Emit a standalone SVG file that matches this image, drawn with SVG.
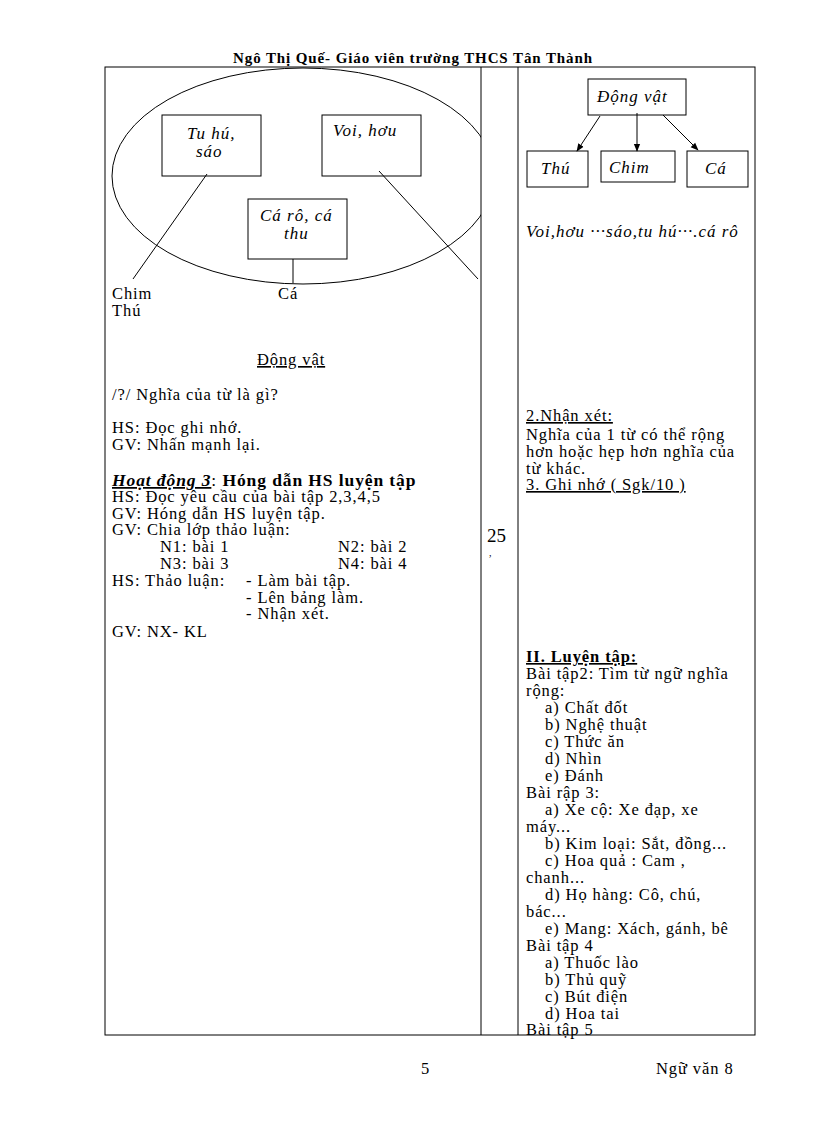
<svg xmlns="http://www.w3.org/2000/svg" width="816" height="1123" viewBox="0 0 816 1123">
<style>
text{font-family:"Liberation Serif","Times New Roman",serif;fill:#000}
.b{font-size:16.5px;letter-spacing:0.9px}
.i{font-style:italic;font-size:17px;letter-spacing:1px}
.hd{font-size:15px;font-weight:bold}
.u{text-decoration:underline}
.box{fill:none;stroke:#000;stroke-width:1}
.ln{stroke:#000;stroke-width:1;fill:none}
</style>
<defs>
<marker id="ah" viewBox="0 0 10 10" refX="9" refY="5" markerWidth="8" markerHeight="8" orient="auto" markerUnits="userSpaceOnUse"><path d="M0,1 L10,5 L0,9 z" fill="#000"/></marker>
<clipPath id="lc"><rect x="105" y="60" width="376" height="300"/></clipPath>
</defs>
<rect width="816" height="1123" fill="#fff"/>
<text class="hd" x="233" y="63" textLength="359">Ngô Thị Quế- Giáo viên trường THCS Tân Thành</text>
<g id="table">
<rect x="105" y="67" width="650" height="968" class="box"/>
<line x1="481" y1="67" x2="481" y2="1035" class="ln"/>
<line x1="518" y1="67" x2="518" y2="1035" class="ln"/>
</g>
<g id="ellipse"><ellipse cx="303" cy="176" rx="191" ry="108" class="ln" clip-path="url(#lc)"/></g>
<g id="connectors">
<line x1="207" y1="174" x2="133" y2="279" class="ln"/>
<line x1="379" y1="171" x2="478" y2="279" class="ln" clip-path="url(#lc)"/>
<line x1="293" y1="259" x2="293" y2="283" class="ln"/>
<line x1="600" y1="116" x2="577" y2="151" class="ln" marker-end="url(#ah)"/>
<line x1="637" y1="113" x2="637" y2="151" class="ln" marker-end="url(#ah)"/>
<line x1="663" y1="115" x2="698" y2="150" class="ln" marker-end="url(#ah)"/>
</g>
<g id="n-tuhu"><rect x="162" y="115" width="99" height="61" class="box"/><text class="i" x="187" y="139">Tu hú,</text><text class="i" x="196" y="157">sáo</text></g>
<g id="n-voi"><rect x="322" y="115" width="99" height="61" class="box"/><text class="i" x="333" y="136">Voi, hơu</text></g>
<g id="n-caro"><rect x="248" y="199" width="99" height="60" class="box"/><text class="i" x="260" y="221">Cá rô, cá</text><text class="i" x="284" y="239">thu</text></g>
<g id="n-dongvat"><rect x="588" y="79" width="98" height="36" class="box"/><text class="i" x="597" y="102">Động vật</text></g>
<g id="n-thu"><rect x="527" y="151" width="61" height="36" class="box"/><text class="i" x="541" y="174">Thú</text></g>
<g id="n-chim"><rect x="601" y="151" width="74" height="31" class="box"/><text class="i" x="609" y="173">Chim</text></g>
<g id="n-ca"><rect x="687" y="151" width="61" height="36" class="box"/><text class="i" x="705" y="174">Cá</text></g>
<g id="left-text">
<text class="b" x="112" y="299">Chim</text>
<text class="b" x="112" y="316">Thú</text>
<text class="b" x="278" y="299">Cá</text>
<text class="b u" x="257" y="365">Động vật</text>
<text class="b" x="112" y="400">/?/ Nghĩa của từ là gì?</text>
<text class="b" x="112" y="433">HS: Đọc ghi nhớ.</text>
<text class="b" x="112" y="450">GV: Nhấn mạnh lại.</text>
<text class="b" x="112" y="486" style="font-size:17.5px"><tspan font-weight="bold" font-style="italic" text-decoration="underline">Hoạt động 3</tspan>: <tspan font-weight="bold">Hóng   dẫn HS luyện tập</tspan></text>
<text class="b" x="112" y="502">HS: Đọc yêu cầu của bài tập 2,3,4,5</text>
<text class="b" x="112" y="519">GV: Hóng   dẫn HS  luyện tập.</text>
<text class="b" x="112" y="535">GV: Chia lớp thảo luận:</text>
<text class="b" x="160" y="552">N1: bài 1</text>
<text class="b" x="338" y="552">N2: bài 2</text>
<text class="b" x="160" y="569">N3: bài 3</text>
<text class="b" x="338" y="569">N4: bài 4</text>
<text class="b" x="112" y="586">HS: Thảo luận:</text>
<text class="b" x="246" y="586">- Làm bài tập.</text>
<text class="b" x="246" y="603">- Lên bảng làm.</text>
<text class="b" x="246" y="619">- Nhận xét.</text>
<text class="b" x="112" y="637">GV: NX- KL</text>
</g>
<g id="mid-text">
<text x="487" y="542" font-size="19">25</text>
<text x="489" y="556" font-size="10">,</text>
</g>
<g id="right-text">
<text class="i" x="526" y="237">Voi,hơu  ···sáo,tu hú···.cá rô</text>
<text class="b u" x="526" y="421">2.Nhận xét:</text>
<text class="b" x="526" y="440">Nghĩa của 1 từ có thể rộng</text>
<text class="b" x="526" y="457">hơn hoặc hẹp hơn nghĩa của</text>
<text class="b" x="526" y="474">từ khác.</text>
<text class="b u" x="526" y="490">3. Ghi nhớ ( Sgk/10 )</text>
<text class="b u" x="526" y="662" font-weight="bold">II. Luyện tập:</text>
<text class="b" x="526" y="679">Bài tập2: Tìm từ ngữ nghĩa</text>
<text class="b" x="526" y="696">rộng:</text>
<text class="b" x="545" y="713">a) Chất đốt</text>
<text class="b" x="545" y="730">b) Nghệ thuật</text>
<text class="b" x="545" y="747">c) Thức ăn</text>
<text class="b" x="545" y="764">d) Nhìn</text>
<text class="b" x="545" y="781">e) Đánh</text>
<text class="b" x="526" y="798">Bài rập 3:</text>
<text class="b" x="545" y="815">a) Xe cộ: Xe đạp, xe</text>
<text class="b" x="526" y="832">máy...</text>
<text class="b" x="545" y="849">b) Kim loại: Sắt, đồng...</text>
<text class="b" x="545" y="866">c) Hoa quả : Cam ,</text>
<text class="b" x="526" y="883">chanh...</text>
<text class="b" x="545" y="900">d) Họ hàng: Cô, chú,</text>
<text class="b" x="526" y="917">bác...</text>
<text class="b" x="545" y="934">e) Mang: Xách, gánh, bê</text>
<text class="b" x="526" y="951">Bài tập 4</text>
<text class="b" x="545" y="968">a) Thuốc lào</text>
<text class="b" x="545" y="985">b) Thủ quỹ</text>
<text class="b" x="545" y="1002">c) Bút điện</text>
<text class="b" x="545" y="1019">d) Hoa tai</text>
<text class="b" x="526" y="1035">Bài tập 5</text>
</g>
<g id="footer">
<text class="b" x="421" y="1074">5</text>
<text class="b" x="656" y="1074">Ngữ văn 8</text>
</g>
</svg>
